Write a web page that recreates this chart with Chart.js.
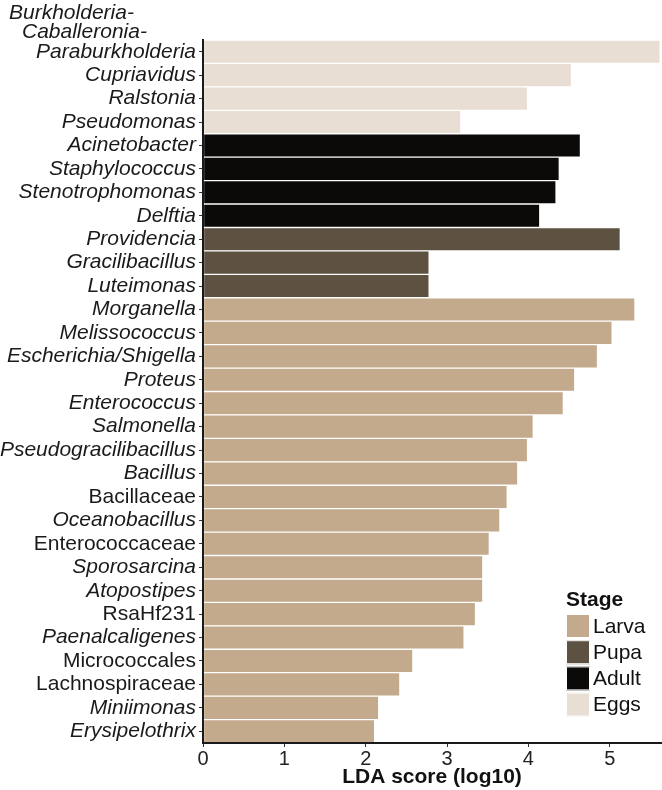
<!DOCTYPE html>
<html>
<head>
<meta charset="utf-8">
<script src="https://cdn.jsdelivr.net/npm/chart.js"></script>
<style>
  html, body { margin: 0; padding: 0; background: #ffffff; }
  #wrap { width: 662px; height: 790px; position: relative; }
</style>
</head>
<body>
<div id="wrap"><canvas id="lda"></canvas></div>
<script>
// taxa, top to bottom
const categories = [
  'Burkholderia-\nCaballeronia-\nParaburkholderia', 'Cupriavidus', 'Ralstonia', 'Pseudomonas',
  'Acinetobacter', 'Staphylococcus', 'Stenotrophomonas', 'Delftia',
  'Providencia', 'Gracilibacillus', 'Luteimonas',
  'Morganella', 'Melissococcus', 'Escherichia/Shigella', 'Proteus', 'Enterococcus',
  'Salmonella', 'Pseudogracilibacillus', 'Bacillus', 'Bacillaceae', 'Oceanobacillus',
  'Enterococcaceae', 'Sporosarcina', 'Atopostipes', 'RsaHf231', 'Paenalcaligenes',
  'Micrococcales', 'Lachnospiraceae', 'Miniimonas', 'Erysipelothrix'
];
const ldaScores = [
  5.62, 4.53, 3.99, 3.17,
  4.64, 4.38, 4.34, 4.14,
  5.13, 2.78, 2.78,
  5.31, 5.03, 4.85, 4.57, 4.43,
  4.06, 3.99, 3.87, 3.74, 3.65,
  3.52, 3.44, 3.44, 3.35, 3.21,
  2.58, 2.42, 2.16, 2.11
];
const stageOf = [
  'Eggs', 'Eggs', 'Eggs', 'Eggs',
  'Adult', 'Adult', 'Adult', 'Adult',
  'Pupa', 'Pupa', 'Pupa',
  'Larva', 'Larva', 'Larva', 'Larva', 'Larva',
  'Larva', 'Larva', 'Larva', 'Larva', 'Larva',
  'Larva', 'Larva', 'Larva', 'Larva', 'Larva',
  'Larva', 'Larva', 'Larva', 'Larva'
];
// names above genus level are not in italics
const romanLabels = ['Bacillaceae', 'Enterococcaceae', 'RsaHf231', 'Micrococcales', 'Lachnospiraceae'];

const stages = ['Larva', 'Pupa', 'Adult', 'Eggs'];
const stageColors = ['#c4aa8c', '#5d5141', '#0c0a08', '#e9ded3'];
const xTicks = [0, 1, 2, 3, 4, 5];

const FONT = '"Liberation Sans", Arial, sans-serif';

// y labels drawn by hand so the 3-line one keeps its last line on the tick
const yLabelPlugin = {
  id: 'yLabels',
  afterDraw(chart) {
    const ctx = chart.ctx;
    const y = chart.scales.y;
    const upperX = [9, 22]; // left starts of the wrapped lines
    ctx.save();
    ctx.fillStyle = '#1a1a1a';
    ctx.textBaseline = 'middle';
    categories.forEach((lab, i) => {
      const py = y.getPixelForValue(i);
      const lines = lab.split('\n');
      ctx.font = (romanLabels.includes(lab) ? '' : 'italic ') + '21px ' + FONT;
      lines.forEach((ln, k) => {
        const last = k === lines.length - 1;
        const off = (lines.length - 1 - k) * 19.5;
        ctx.textAlign = last ? 'right' : 'left';
        ctx.fillText(ln, last ? 196 : upperX[k], py - off);
      });
    });
    ctx.restore();
  }
};

const legendPlugin = {
  id: 'stageLegend',
  afterDraw(chart) {
    const ctx = chart.ctx;
    const x0 = 566, y0 = 614, box = 24, step = 26.2;
    ctx.save();
    ctx.fillStyle = '#111';
    ctx.textAlign = 'left';
    ctx.textBaseline = 'middle';
    ctx.font = 'bold 21px ' + FONT;
    ctx.fillText('Stage', x0, 600);
    ctx.font = '21px ' + FONT;
    stages.forEach((s, i) => {
      const top = y0 + i * step;
      ctx.fillStyle = stageColors[i];
      ctx.fillRect(x0, top, box, box);
      ctx.strokeStyle = '#ffffff';
      ctx.lineWidth = 1;
      ctx.strokeRect(x0 + 0.5, top + 0.5, box - 1, box - 1);
      ctx.fillStyle = '#111';
      ctx.fillText(s, x0 + box + 3, top + box / 2 + 1);
    });
    ctx.restore();
  }
};

new Chart(document.getElementById('lda'), {
  type: 'bar',
  data: {
    labels: categories,
    datasets: [{
      data: ldaScores,
      backgroundColor: stageOf.map(s => stageColors[stages.indexOf(s)]),
      borderColor: '#ffffff',
      borderWidth: 1,
      borderSkipped: false,
      barPercentage: 1,
      categoryPercentage: 1
    }]
  },
  options: {
    indexAxis: 'y',
    responsive: true,
    maintainAspectRatio: false,
    animation: false,
    layout: { padding: { top: 40, right: 1, left: 0, bottom: 0 } },
    plugins: {
      legend: { display: false },
      tooltip: { enabled: false }
    },
    scales: {
      x: {
        type: 'linear',
        min: 0,
        max: 5.63,
        afterBuildTicks: (scale) => { scale.ticks = xTicks.map(v => ({ value: v })); },
        afterFit: (scale) => { scale.height = 47; },
        grid: { drawOnChartArea: false, drawTicks: true, tickLength: 4, color: '#333', lineWidth: 1 },
        border: { display: true, color: '#1a1a1a', width: 2, z: 1 },
        ticks: { color: '#222', font: { family: FONT, size: 20 }, padding: 0, maxRotation: 0 },
        title: {
          display: true,
          text: 'LDA score (log10)',
          color: '#111',
          font: { family: FONT, size: 21, weight: 'bold' },
          padding: { top: 0, bottom: 0 }
        }
      },
      y: {
        type: 'category',
        afterFit: (scale) => { scale.width = 203; },
        grid: { offset: false, drawOnChartArea: false, drawTicks: true, tickLength: 4, color: '#333', lineWidth: 1 },
        border: { display: true, color: '#1a1a1a', width: 2, z: 1 },
        ticks: { display: false }
      }
    }
  },
  plugins: [yLabelPlugin, legendPlugin]
});
</script>
</body>
</html>
